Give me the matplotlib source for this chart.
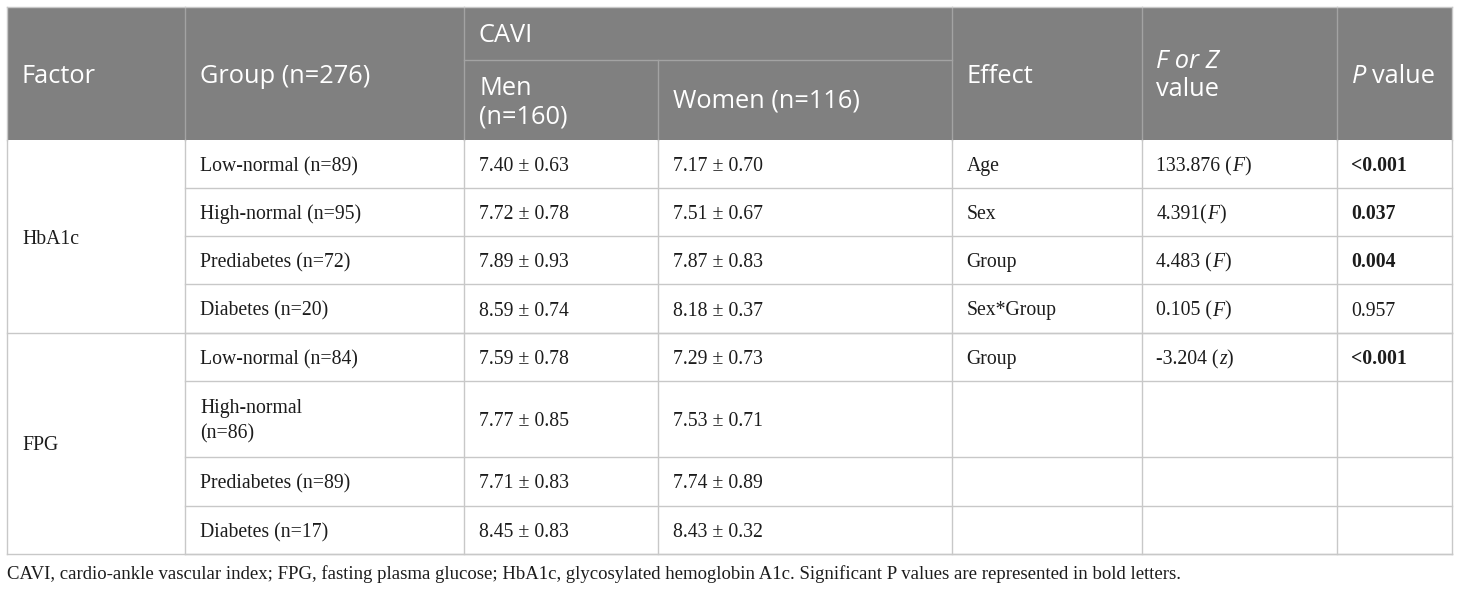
import matplotlib
matplotlib.use("Agg")
import matplotlib.pyplot as plt

# ====== 表格資料 ======
factors = ["HbA1c", "FPG"]
factor_rows = [4, 4]
groups = ["Low-normal (n=89)", "High-normal (n=95)", "Prediabetes (n=72)",
          "Diabetes (n=20)", "Low-normal (n=84)", "High-normal\n(n=86)",
          "Prediabetes (n=89)", "Diabetes (n=17)"]
men = ["7.40 ± 0.63", "7.72 ± 0.78", "7.89 ± 0.93", "8.59 ± 0.74",
       "7.59 ± 0.78", "7.77 ± 0.85", "7.71 ± 0.83", "8.45 ± 0.83"]
women = ["7.17 ± 0.70", "7.51 ± 0.67", "7.87 ± 0.83", "8.18 ± 0.37",
         "7.29 ± 0.73", "7.53 ± 0.71", "7.74 ± 0.89", "8.43 ± 0.32"]
effects = ["Age", "Sex", "Group", "Sex*Group", "Group", "", "", ""]
fz_num = ["133.876 (", "4.391(", "4.483 (", "0.105 (", "-3.204 (", "", "", ""]
fz_stat = ["F", "F", "F", "F", "z", "", "", ""]
p_values = ["<0.001", "0.037", "0.004", "0.957", "<0.001", "", "", ""]
p_bold = [True, True, True, False, True, False, False, False]
caption = ("CAVI, cardio-ankle vascular index; FPG, fasting plasma glucose; "
           "HbA1c, glycosylated hemoglobin A1c. Significant P values are "
           "represented in bold letters.")

# ====== 版面 ======
W, H = 1460, 591
col_x = [7, 185, 464, 658, 951.5, 1141.5, 1336.5, 1452]
head_top, head_mid, head_bot = 7, 59.5, 140
row_h = [48, 48, 48, 49, 48, 76, 49, 48]
pad = 15

head_font = "Open Sans"
body_font = "Liberation Serif"
head_size = 18.3
body_size = 14.2
cap_size = 13.5
head_gray = "#808080"
sep_head = "#a3a3a3"
grid = "#c8c8c8"
ink = "#1c1c1c"

fig = plt.figure(figsize=(W / 100, H / 100), dpi=100)
ax = fig.add_axes([0, 0, 1, 1])
ax.set_xlim(0, W)
ax.set_ylim(H, 0)
ax.axis("off")
renderer = fig.canvas.get_renderer()


def advance(s, **kw):
    # 加一個 "x" 量寬度, 尾端空白才會算進去
    t1 = ax.text(0, 0, s + "x", **kw)
    t2 = ax.text(0, 0, "x", **kw)
    w = t1.get_window_extent(renderer).width - t2.get_window_extent(renderer).width
    t1.remove()
    t2.remove()
    return w


def draw_runs(x, y, runs, family, size, color):
    for s, style, weight in runs:
        kw = dict(family=family, fontsize=size, style=style, weight=weight)
        ax.text(x, y, s, color=color, va="baseline", ha="left", **kw)
        x += advance(s, **kw)


def draw_lines(x, y, text, step, **kw):
    for i, line in enumerate(text.split("\n")):
        ax.text(x, y + i * step, line, va="baseline", ha="left", **kw)


# 表頭底色
ax.fill_between([col_x[0], col_x[-1]], head_top, head_bot, color=head_gray, lw=0)

# 表頭分隔線
for cx in [col_x[1], col_x[2], col_x[4], col_x[5], col_x[6]]:
    ax.plot([cx, cx], [head_top, head_bot], color=sep_head, lw=1)
ax.plot([col_x[3], col_x[3]], [head_mid, head_bot], color=sep_head, lw=1)
ax.plot([col_x[2], col_x[4]], [head_mid, head_mid], color=sep_head, lw=1)
ax.plot([col_x[0], col_x[-1]], [head_top, head_top], color=grid, lw=1)
ax.plot([col_x[0], col_x[0]], [head_top, head_bot], color=grid, lw=1)
ax.plot([col_x[-1], col_x[-1]], [head_top, head_bot], color=grid, lw=1)

# 表頭文字
hkw = dict(family=head_font, fontsize=head_size, color="white")
base1 = 83
draw_lines(col_x[0] + pad, base1, "Factor", 28, **hkw)
draw_lines(col_x[1] + pad, base1, "Group (n=276)", 28, **hkw)
draw_lines(col_x[2] + pad, 42.5, "CAVI", 28, **hkw)
draw_lines(col_x[2] + pad, 95, "Men\n(n=160)", 29, **hkw)
draw_lines(col_x[3] + pad, 108, "Women (n=116)", 28, **hkw)
draw_lines(col_x[4] + pad, base1, "Effect", 28, **hkw)
ax.text(col_x[5] + pad, 68, "F or Z", style="italic", va="baseline", **hkw)
ax.text(col_x[5] + pad, 96, "value", va="baseline", **hkw)
draw_runs(col_x[6] + pad, base1, [("P ", "italic", "normal"), ("value", "normal", "normal")],
          head_font, head_size, "white")

# 內容列
edges = [head_bot]
for h in row_h:
    edges.append(edges[-1] + h)

bkw = dict(family=body_font, fontsize=body_size, color=ink)
for i in range(len(groups)):
    top, bot = edges[i], edges[i + 1]
    mid = (top + bot) / 2
    nlines = groups[i].count("\n") + 1
    yb = mid + 7 - (nlines - 1) * 12.5
    draw_lines(col_x[1] + pad, yb, groups[i], 25, **bkw)
    draw_lines(col_x[2] + pad, mid + 7, men[i], 25, **bkw)
    draw_lines(col_x[3] + pad, mid + 7, women[i], 25, **bkw)
    if effects[i]:
        draw_lines(col_x[4] + pad, mid + 7, effects[i], 25, **bkw)
    if fz_num[i]:
        draw_runs(col_x[5] + pad, mid + 7,
                  [(fz_num[i], "normal", "normal"), (fz_stat[i], "italic", "normal"),
                   (")", "normal", "normal")], body_font, body_size, ink)
    if p_values[i]:
        ax.text(col_x[6] + pad, mid + 7, p_values[i], va="baseline",
                weight="bold" if p_bold[i] else "normal", **bkw)
    # 橫線 (因子欄是合併儲存格)
    ax.plot([col_x[1], col_x[-1]], [bot, bot], color=grid, lw=1)

# 因子欄
start = 0
for name, n in zip(factors, factor_rows):
    top, bot = edges[start], edges[start + n]
    ax.text(col_x[0] + pad, (top + bot) / 2 + 7, name, va="baseline", **bkw)
    ax.plot([col_x[0], col_x[-1]], [bot, bot], color=grid, lw=1)
    start += n

# 直線
for cx in col_x:
    ax.plot([cx, cx], [head_bot, edges[-1]], color=grid, lw=1)

# 註解
ax.text(col_x[0], 579, caption, va="baseline", family=body_font,
        fontsize=cap_size, color=ink)

fig.savefig("out.png", dpi=100)
